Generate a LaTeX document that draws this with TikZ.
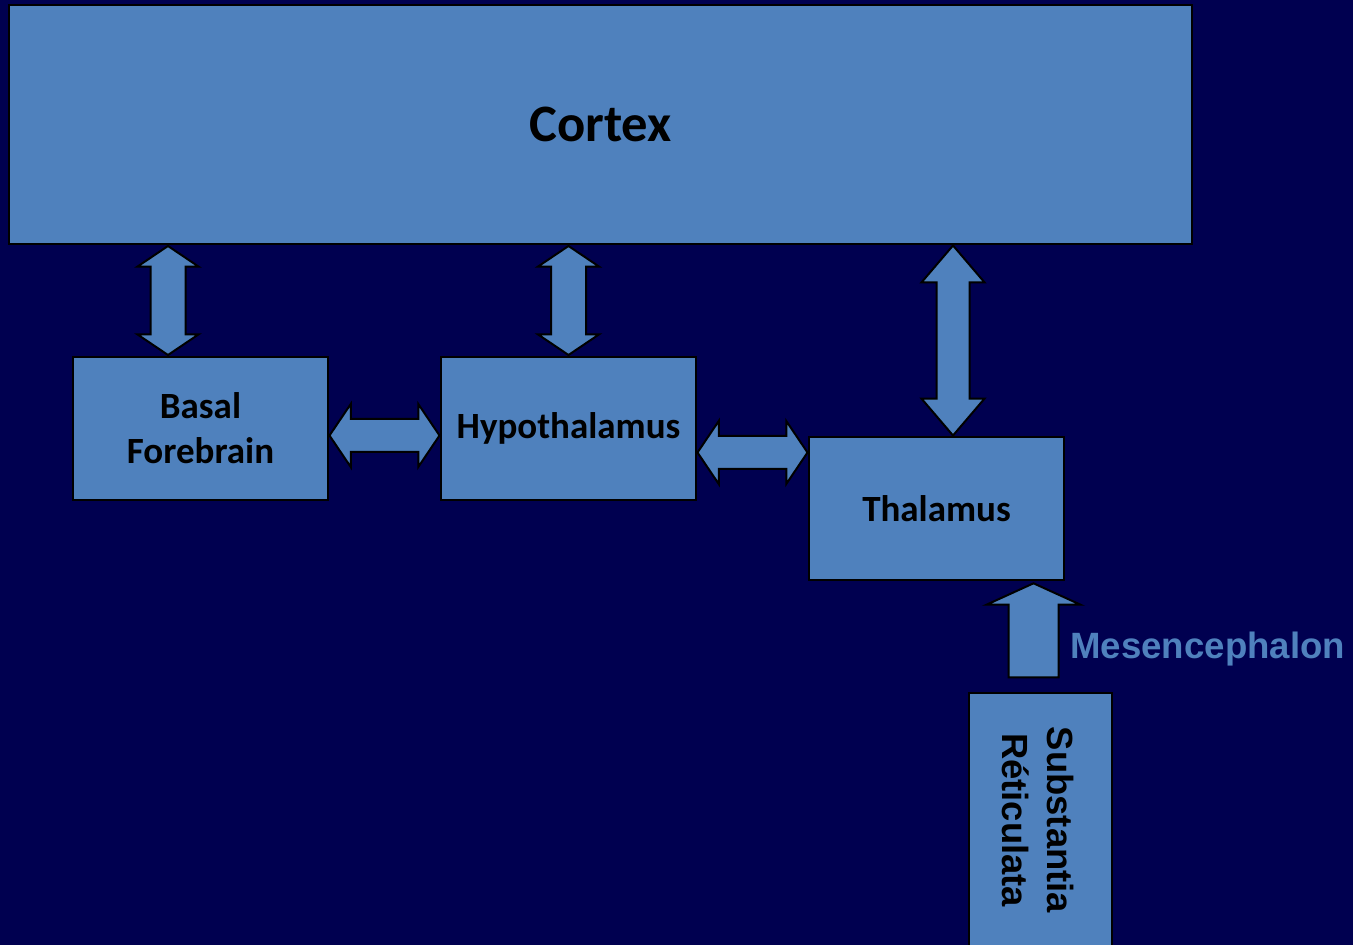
\documentclass[tikz,border=0pt]{standalone}
\usepackage{fontspec}
\setmainfont{Carlito}
\newfontfamily\arialfont{Liberation Sans}
\usetikzlibrary{calc,positioning,shapes.arrows}
\definecolor{Night}{HTML}{000050}
\definecolor{Region}{HTML}{4F81BD}

\begin{document}
\begin{tikzpicture}[x=0.5pt,y=-0.5pt,
  region/.style={draw=black,line width=1pt,fill=Region,inner sep=0pt,
    align=center,font=\fontsize{18.5}{22.5}\selectfont\bfseries},
  fatlink/.style={double arrow,draw=black,line width=1pt,fill=Region,
    inner xsep=0pt,minimum width=0pt,double arrow head indent=0pt},
  fatup/.style={single arrow,draw=black,line width=1pt,fill=Region,
    inner xsep=0pt,minimum width=0pt,single arrow head indent=0pt}]
  % Background and frame.
  \fill[Night] (0,0) rectangle (1353,945);
  \useasboundingbox (0,0) rectangle (1353,945);

  % Brain regions.
  \node[region,minimum width=591.5pt,minimum height=119.5pt,
    font=\fontsize{26.3}{30}\selectfont\bfseries] (cortex) at (600.5,124.5) {Cortex};
  \node[region,minimum width=127.5pt,minimum height=71.5pt] (bf) at (200.5,428.5) {Basal\\Forebrain};
  \node[region,minimum width=127.5pt,minimum height=71.5pt] (hypo) at (568.5,428.5) {Hypothalamus};
  \node[region,minimum width=127.5pt,minimum height=71.5pt] (thal) at (936.5,508.5) {Thalamus};
  \node[region,minimum width=71.5pt,minimum height=153.5pt] (sr) at (1040.5,846.5) {};
  \node[rotate=-90,align=center,inner sep=0pt,
    font=\arialfont\fontsize{18.2}{22.5}\selectfont\bfseries] (srlabel) at (1038,820)
    {Substantia\\R\'eticulata};

  % Fat connectors between the regions.
  \node[fatlink,rotate=90,minimum height=54.5pt,inner ysep=8.25pt,
    double arrow head extend=6.5pt,double arrow tip angle=112]
    (cortexbf) at ($(cortex.south -| bf.north)!.5!(bf.north)+(-32.5,0)$) {};
  \node[fatlink,rotate=90,minimum height=54.5pt,inner ysep=8.25pt,
    double arrow head extend=6.5pt,double arrow tip angle=112]
    (cortexhypo) at ($(cortex.south -| hypo.north)!.5!(hypo.north)$) {};
  \node[fatlink,rotate=90,minimum height=95pt,inner ysep=7.75pt,
    double arrow head extend=7.5pt,double arrow tip angle=81]
    (cortexthal) at ($(cortex.south -| thal.north)!.5!(thal.north)+(16.5,0)$) {};
  \node[fatlink,minimum height=55pt,inner ysep=7.75pt,
    double arrow head extend=7.5pt,double arrow tip angle=112]
    (bfhypo) at ($(bf.east)!.5!(hypo.west)+(0,7)$) {};
  \node[fatlink,minimum height=55pt,inner ysep=7.75pt,
    double arrow head extend=7.5pt,double arrow tip angle=112]
    (hypothal) at ($(hypo.east)!.5!(thal.west)+(0,-16)$) {};
  \node[fatup,rotate=90,minimum height=47pt,inner ysep=12pt,
    single arrow head extend=11pt,single arrow tip angle=131]
    (srthal) at ($(thal.south -| sr.north)!.5!(sr.north)+(-7,-0.5)$) {};

  \node[anchor=base west,inner sep=0pt,text=Region,
    font=\arialfont\fontsize{18.3}{22}\selectfont\bfseries] (mesen) at (1070,658) {Mesencephalon};
\end{tikzpicture}
\end{document}
